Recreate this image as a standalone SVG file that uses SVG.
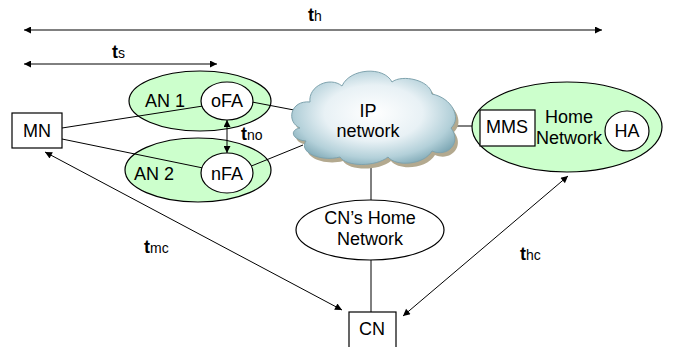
<svg xmlns="http://www.w3.org/2000/svg" width="678" height="347" viewBox="0 0 678 347">
  <style>
    text { font-family: "Liberation Sans", Arial, sans-serif; font-size: 18px; fill: #000; text-anchor: middle; }
    .lbl { text-anchor: start; font-weight: bold; }
    .sub { font-size: 14px; font-weight: normal; }
    .net { fill: #ccffcc; stroke: #000; stroke-width: 1.2; }
    .node { fill: #fff; stroke: #000; stroke-width: 1.2; }
    .link { stroke: #000; stroke-width: 1; fill: none; }
    .dbl { stroke: #000; stroke-width: 1; fill: none; marker-start: url(#head); marker-end: url(#head); }
  </style>
  <defs>
    <marker id="head" viewBox="0 0 10 10" refX="10" refY="5" markerWidth="9" markerHeight="7" markerUnits="userSpaceOnUse" orient="auto-start-reverse">
      <path d="M0,0 L10,5 L0,10 Z" fill="#000"/>
    </marker>
    <radialGradient id="cloudFill" cx="0.5" cy="0.45" r="0.6">
      <stop offset="0" stop-color="#ffffff"/>
      <stop offset="0.5" stop-color="#e8f1f5"/>
      <stop offset="0.8" stop-color="#b3d0d9"/>
      <stop offset="1" stop-color="#7ea8b5"/>
    </radialGradient>
    <path id="cloudShape" d="M300,128 C286,122 290,100 310,102 C308,86 330,76 342,86 C350,68 384,66 392,82 C402,74 430,80 432,94 C452,98 462,118 451,128 C462,142 448,158 432,151 C424,165 396,167 388,157 C376,167 346,167 340,157 C322,162 298,153 306,141 C292,140 289,130 300,128 Z"/>
  </defs>

  <!-- timing spans -->
  <g id="spans">
    <line x1="24" y1="30" x2="602" y2="30" stroke="#808080" stroke-width="2" marker-start="url(#head)" marker-end="url(#head)"/>
    <text class="lbl" x="308" y="21">t<tspan class="sub">h</tspan></text>
    <line class="dbl" x1="24" y1="64" x2="217" y2="64"/>
    <text class="lbl" x="112" y="58">t<tspan class="sub">s</tspan></text>
  </g>

  <!-- access networks -->
  <g id="an1">
    <ellipse class="net" cx="200" cy="101" rx="71" ry="30"/>
    <text x="165" y="107">AN 1</text>
  </g>
  <g id="an2">
    <ellipse class="net" cx="198" cy="170" rx="73" ry="32"/>
    <text x="154" y="180">AN 2</text>
  </g>

  <!-- home network -->
  <g id="home-network">
    <ellipse class="net" cx="567" cy="127" rx="95" ry="45"/>
    <text x="569" y="123">Home</text>
    <text x="569" y="144">Network</text>
  </g>

  <!-- connectors -->
  <g id="connectors">
    <line class="link" x1="62" y1="128" x2="203" y2="106"/>
    <line class="link" x1="62" y1="139" x2="203" y2="168"/>
    <line class="link" x1="252" y1="102" x2="294" y2="110"/>
    <line class="link" x1="249" y1="167" x2="303" y2="145"/>
    <line class="link" x1="454" y1="126" x2="472" y2="126" stroke="#555"/>
    <line class="link" x1="371" y1="158" x2="371" y2="200" stroke="#444"/>
    <line class="link" x1="371" y1="260" x2="371" y2="312" stroke="#444"/>
    <line class="dbl" x1="227" y1="120" x2="227" y2="153"/>
    <text class="lbl" x="241" y="140">t<tspan class="sub">no</tspan></text>
    <line class="dbl" x1="45" y1="152" x2="342" y2="310"/>
    <text class="lbl" x="144" y="253">t<tspan class="sub">mc</tspan></text>
    <line class="dbl" x1="403" y1="316" x2="568" y2="176"/>
    <text class="lbl" x="520" y="260">t<tspan class="sub">hc</tspan></text>
  </g>

  <!-- nodes -->
  <g id="mn">
    <rect class="node" x="12" y="113" width="50" height="35"/>
    <text x="37" y="137">MN</text>
  </g>
  <g id="ofa">
    <ellipse class="node" cx="227" cy="101" rx="26" ry="19"/>
    <text x="227" y="107">oFA</text>
  </g>
  <g id="nfa">
    <ellipse class="node" cx="227" cy="173" rx="26" ry="20"/>
    <text x="227" y="180">nFA</text>
  </g>
  <g id="ip-network">
    <use href="#cloudShape" transform="translate(3,4)" fill="#b3a98f"/>
    <use href="#cloudShape" fill="url(#cloudFill)" stroke="#7fa3ae" stroke-width="1"/>
    <text x="368" y="117">IP</text>
    <text x="368" y="137">network</text>
  </g>
  <g id="mms">
    <rect class="node" x="480" y="110" width="55" height="36"/>
    <text x="507" y="133">MMS</text>
  </g>
  <g id="ha">
    <ellipse class="node" cx="627" cy="131" rx="22" ry="20"/>
    <text x="627" y="137">HA</text>
  </g>
  <g id="cn-home">
    <ellipse class="node" cx="370" cy="230" rx="74" ry="30"/>
    <text x="370" y="224">CN’s Home</text>
    <text x="370" y="245">Network</text>
  </g>
  <g id="cn">
    <rect class="node" x="349" y="312" width="47" height="40"/>
    <text x="372" y="335">CN</text>
  </g>
</svg>
